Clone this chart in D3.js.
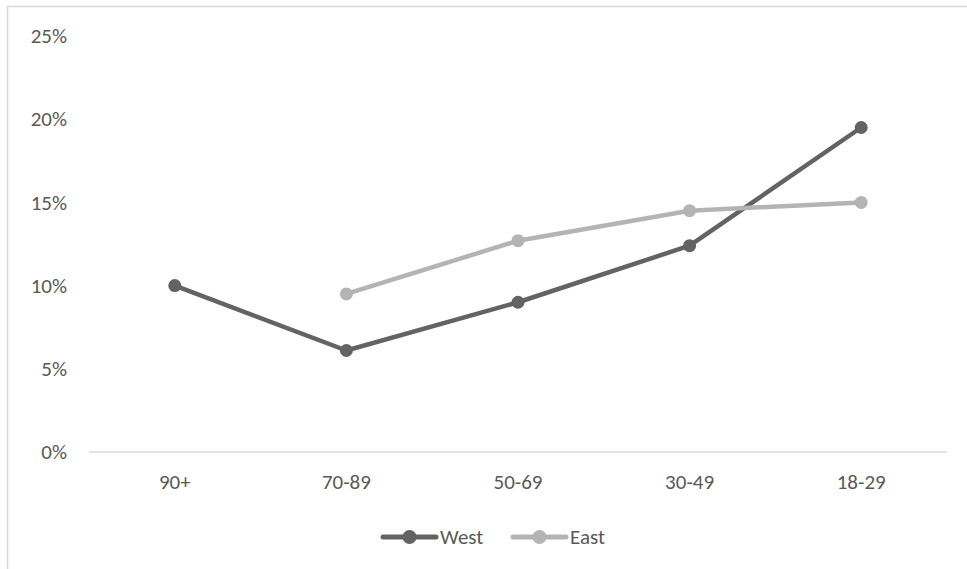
<!DOCTYPE html>
<html>
<head>
<meta charset="utf-8">
<script src="https://cdn.jsdelivr.net/npm/d3@7"></script>
<style>
  html, body { margin: 0; padding: 0; background: #fff; }
  svg { display: block; }
  text { font-family: Carlito, Calibri, Lato, "Open Sans", sans-serif; fill: #595959; }
</style>
</head>
<body>
<svg id="chart" width="967" height="569"></svg>
<script>
// Age groups, oldest first
const categories = ["90+", "70-89", "50-69", "30-49", "18-29"];
// Share per age group (percent); null where no value exists
const westValues = [10.0, 6.1, 9.0, 12.4, 19.5];
const eastValues = [null, 9.5, 12.7, 14.5, 15.0];
const yTicks = [0, 5, 10, 15, 20, 25];
const seriesNames = ["West", "East"];
const seriesColors = ["#636363", "#b4b4b4"];

const svg = d3.select("#chart");
const W = 967, H = 569;
const FONT = 21;

// Outer chart frame (right and bottom edges fall outside the view)
svg.append("rect")
  .attr("x", 7.5).attr("y", 6.5)
  .attr("width", W + 20).attr("height", H + 20)
  .attr("fill", "none").attr("stroke", "#d9d9d9").attr("stroke-width", 1.5);

const plot = { left: 89, right: 947, top: 36, bottom: 452 };

const x = d3.scaleBand().domain(categories).range([plot.left, plot.right]);
const y = d3.scaleLinear().domain([0, 25]).range([plot.bottom, plot.top]);

// Y axis labels (no axis line, no gridlines)
const yAxis = svg.append("g")
  .attr("transform", `translate(${plot.left - 22},0)`)
  .call(d3.axisLeft(y).tickValues(yTicks).tickFormat(d => d + "%").tickSize(0).tickPadding(0));
yAxis.select(".domain").remove();
yAxis.selectAll("text").attr("font-size", FONT).style("fill", "#595959");

// Baseline
svg.append("line")
  .attr("x1", plot.left).attr("x2", plot.right)
  .attr("y1", y(0)).attr("y2", y(0))
  .attr("stroke", "#d9d9d9").attr("stroke-width", 1.5);

// X axis labels
const xAxis = svg.append("g")
  .attr("transform", `translate(0,${y(0)})`)
  .call(d3.axisBottom(x).tickSize(0).tickPadding(22));
xAxis.select(".domain").remove();
xAxis.selectAll("text").attr("font-size", FONT).style("fill", "#595959");

const series = [westValues, eastValues];
const cx = d => x(d.cat) + x.bandwidth() / 2;

const line = d3.line()
  .defined(d => d.v != null)
  .x(cx)
  .y(d => y(d.v));

series.forEach((vals, i) => {
  const pts = categories.map((c, j) => ({ cat: c, v: vals[j] }));
  svg.append("path")
    .datum(pts)
    .attr("d", line)
    .attr("fill", "none")
    .attr("stroke", seriesColors[i])
    .attr("stroke-width", 4.5)
    .attr("stroke-linejoin", "round")
    .attr("stroke-linecap", "round");
  svg.append("g").selectAll("circle")
    .data(pts.filter(d => d.v != null))
    .join("circle")
    .attr("cx", cx)
    .attr("cy", d => y(d.v))
    .attr("r", 6.5)
    .attr("fill", seriesColors[i]);
});

// Legend
const legend = svg.append("g").attr("transform", "translate(383,537)");
const legendOffsets = [0, 130];
seriesNames.forEach((name, i) => {
  const g = legend.append("g").attr("transform", `translate(${legendOffsets[i]},0)`);
  g.append("line").attr("x1", 0).attr("x2", 53).attr("y1", 0).attr("y2", 0)
    .attr("stroke", seriesColors[i]).attr("stroke-width", 5).attr("stroke-linecap", "round");
  g.append("circle").attr("cx", 26.5).attr("cy", 0).attr("r", 7).attr("fill", seriesColors[i]);
  g.append("text").attr("x", 57).attr("y", 0).attr("dy", "0.35em")
    .attr("font-size", FONT).text(name);
});
</script>
</body>
</html>
